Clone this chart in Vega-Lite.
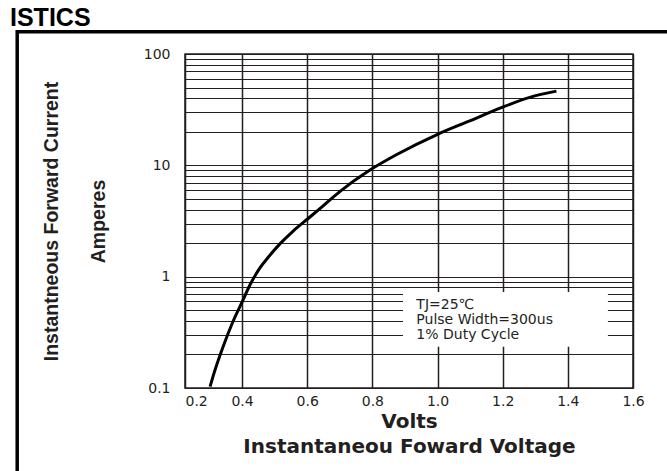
{
  "$schema": "https://vega.github.io/schema/vega-lite/v6.json",
  "width": 448,
  "height": 334,
  "autosize": "none",
  "padding": {"left": 185, "top": 54, "right": 34, "bottom": 83},
  "background": "white",
  "title": {
    "text": "ISTICS",
    "anchor": "start",
    "frame": "group",
    "dx": -175,
    "dy": 27,
    "font": "Liberation Sans",
    "fontSize": 25,
    "fontWeight": "bold",
    "color": "#000000",
    "baseline": "alphabetic",
    "offset": 6
  },
  "config": {
    "view": {"stroke": "#231f20", "strokeWidth": 1.5}
  },
  "datasets": {
    "curve": [
      {"volts": 0.302, "amps": 0.103},
      {"volts": 0.312, "amps": 0.13},
      {"volts": 0.343, "amps": 0.24},
      {"volts": 0.373, "amps": 0.40},
      {"volts": 0.400, "amps": 0.59},
      {"volts": 0.425, "amps": 0.85},
      {"volts": 0.455, "amps": 1.2},
      {"volts": 0.481, "amps": 1.5},
      {"volts": 0.517, "amps": 1.98},
      {"volts": 0.557, "amps": 2.57},
      {"volts": 0.603, "amps": 3.33},
      {"volts": 0.649, "amps": 4.33},
      {"volts": 0.700, "amps": 5.81},
      {"volts": 0.788, "amps": 8.89},
      {"volts": 0.875, "amps": 12.5},
      {"volts": 1.002, "amps": 19.1},
      {"volts": 1.099, "amps": 25.1},
      {"volts": 1.196, "amps": 33.0},
      {"volts": 1.283, "amps": 40.8},
      {"volts": 1.365, "amps": 46.4}
    ]
  },
  "layer": [
    {
      "data": {"name": "curve"},
      "mark": {"type": "line", "color": "#000000", "strokeWidth": 3, "interpolate": "monotone"},
      "encoding": {
        "x": {
          "field": "volts",
          "type": "quantitative",
          "scale": {"domain": [0.225, 1.6], "nice": false, "zero": false},
          "axis": {
            "title": ["Volts", "Instantaneou Foward Voltage"],
            "values": [0.225, 0.4, 0.6, 0.8, 1.0, 1.2, 1.4, 1.6],
            "labelExpr": "datum.value < 0.3 ? '0.2' : format(datum.value, '.1f')",
            "grid": true,
            "gridColor": "#231f20",
            "gridWidth": 1.5,
            "gridOpacity": 1,
            "ticks": false,
            "tickSize": 0,
            "domain": false,
            "labelFont": "DejaVu Sans",
            "labelFontSize": 14,
            "labelColor": "#231f20",
            "labelPadding": 6,
            "labelFlush": false,
            "labelOverlap": false,
            "labelAlign": {"condition": {"test": "datum.value < 0.3", "value": "left"}, "value": "center"},
            "titleFont": "DejaVu Sans",
            "titleFontSize": 20,
            "titleFontWeight": "bold",
            "titleColor": "#231f20",
            "titleLineHeight": 25,
            "titlePadding": 3
          }
        },
        "y": {
          "field": "amps",
          "type": "quantitative",
          "scale": {"type": "log", "domain": [0.1, 100], "nice": false},
          "axis": {
            "title": ["Instantneous Forward Current", "Amperes"],
            "values": [0.1, 0.2, 0.3, 0.4, 0.5, 0.6, 0.7, 0.8, 0.9, 1, 2, 3, 4, 5, 6, 7, 8, 9, 10, 20, 30, 40, 50, 60, 70, 80, 90, 100],
            "format": "~g",
            "labelExpr": "indexof([0.1, 1, 10, 100], datum.value) >= 0 ? datum.label : ''",
            "grid": true,
            "gridColor": "#231f20",
            "gridWidth": 1,
            "gridOpacity": 1,
            "ticks": false,
            "tickSize": 0,
            "domain": false,
            "labelFont": "DejaVu Sans",
            "labelFontSize": 14,
            "labelColor": "#231f20",
            "labelPadding": 15,
            "labelFlush": false,
            "labelOverlap": false,
            "titleFont": "Liberation Sans",
            "titleFontSize": 19.5,
            "titleFontWeight": "bold",
            "titleColor": "#231f20",
            "titleLineHeight": 47,
            "titlePadding": 35
          }
        }
      }
    },
    {
      "data": {"values": [{}]},
      "mark": {"type": "rect", "fill": "white"},
      "encoding": {
        "x": {"datum": 0.894, "type": "quantitative"},
        "x2": {"datum": 1.523},
        "y": {"datum": 0.73, "type": "quantitative"},
        "y2": {"datum": 0.235}
      }
    },
    {
      "data": {"values": [{}]},
      "mark": {"type": "text", "align": "left", "baseline": "alphabetic", "font": "DejaVu Sans", "fontSize": 14, "lineHeight": 15, "color": "#231f20"},
      "encoding": {
        "x": {"datum": 0.935, "type": "quantitative"},
        "y": {"datum": 0.5125, "type": "quantitative"},
        "text": {"value": ["TJ=25℃", "Pulse Width=300us", "1% Duty Cycle"]}
      }
    },
    {
      "data": {"values": [{}]},
      "mark": {"type": "rect", "fill": "transparent", "stroke": "#000000", "strokeWidth": 3.5, "clip": false},
      "encoding": {
        "x": {"datum": -0.29, "type": "quantitative"},
        "x2": {"datum": 2.3},
        "y": {"datum": 158.6, "type": "quantitative"},
        "y2": {"datum": 0.005}
      }
    }
  ]
}
